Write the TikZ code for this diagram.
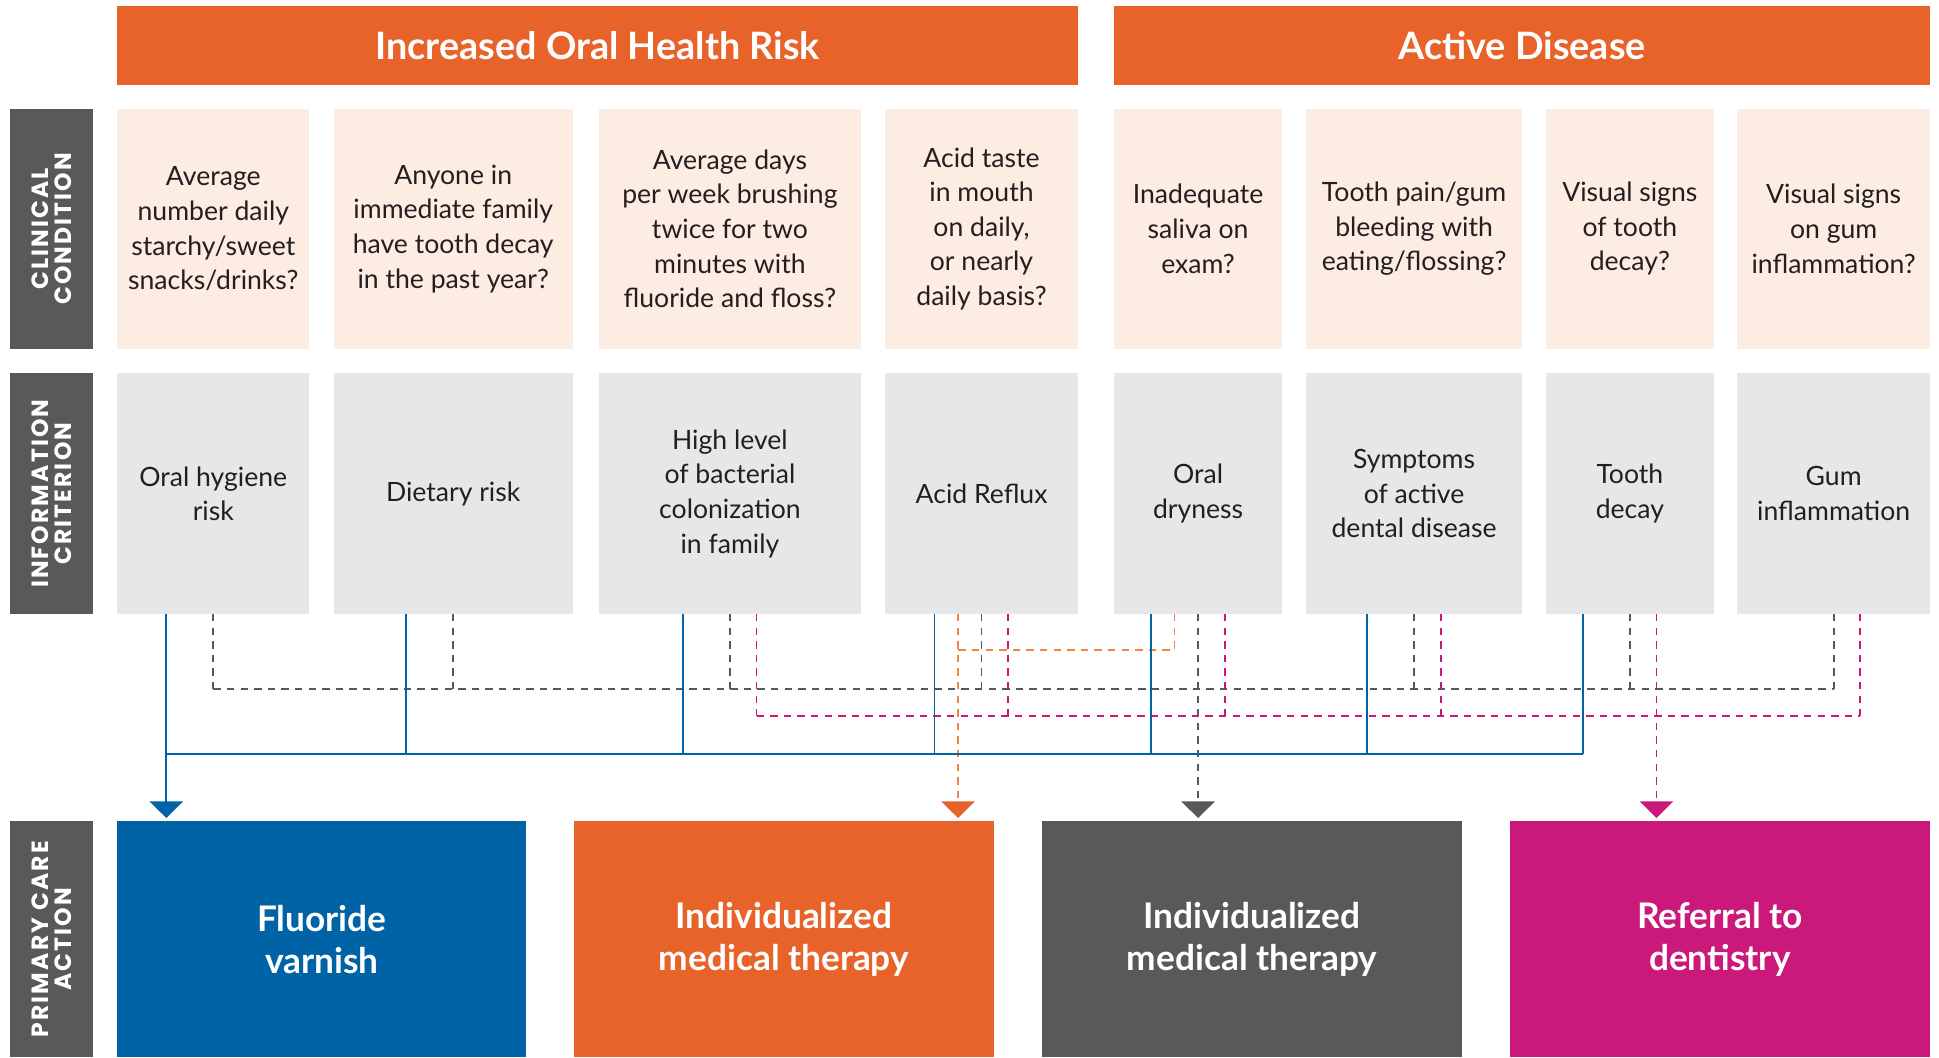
\documentclass[tikz,border=0pt]{standalone}
\usepackage{fontspec}
\setmainfont{Lato}
\newfontfamily\labfont{Poppins}[LetterSpace=9]
\usetikzlibrary{arrows.meta,calc}
\definecolor{hdr}{HTML}{E8632A}
\definecolor{orline}{HTML}{F08347}
\definecolor{peach}{HTML}{FDECE1}
\definecolor{lgray}{HTML}{E6E7E8}
\definecolor{dgray}{HTML}{58595B}
\definecolor{cblue}{HTML}{0063A6}
\definecolor{cmag}{HTML}{CB187B}
\definecolor{ink}{HTML}{231F20}
\tikzset{
  box/.style={inner sep=0pt, outer sep=0pt, align=center},
  hdrbox/.style={box, fill=hdr, text=white, minimum height=63.5pt,
    font=\bfseries\fontsize{30.5}{34}\selectfont},
  sidebar/.style={box, fill=dgray, text=white, rotate=90, minimum height=67.5pt,
    font=\labfont\bfseries\fontsize{19}{18.6}\selectfont},
  condbox/.style={box, fill=peach, text=ink, minimum height=194pt,
    font=\fontsize{21.5}{28}\selectfont},
  infobox/.style={box, fill=lgray, text=ink, minimum height=194.5pt,
    font=\fontsize{21.5}{28}\selectfont},
  actbox/.style={box, text=white, minimum height=191pt, minimum width=339.8pt,
    font=\bfseries\fontsize{28.5}{34}\selectfont},
  conn/.style={line width=1.4pt},
  dconn/.style={conn, dash pattern=on 6pt off 5pt},
  bl/.style={conn, cblue, line width=1.4pt},
  gr/.style={dconn, dgray},
  mg/.style={dconn, cmag},
  og/.style={dconn, orline},
  tip/.style={-{Triangle[width=27pt,length=13.5pt,color=#1,fill=#1]}, shorten >=2.5pt}
}
\begin{document}
\begin{tikzpicture}[x=1pt,y=-1pt]
\useasboundingbox (0,0) rectangle (1568,854.8);
% headers
\node[hdrbox, minimum width=776.5pt] (h1) at (483.25,36.75) {Increased Oral Health Risk};
\node[hdrbox, minimum width=659.6pt] (h2) at (1230.8,36.75) {Active Disease};
% side bars
\node[sidebar, minimum width=194pt] (s1) at (41.75,185) {CLINICAL\\CONDITION};
\node[sidebar, minimum width=194.5pt] (s2) at (41.75,399.25) {INFORMATION\\CRITERION};
\node[sidebar, minimum width=191pt] (s3) at (41.75,759.5) {PRIMARY CARE\\ACTION};
% clinical condition row
\node[condbox, minimum width=155pt] (c1) at (172.5,185) {Average\\number daily\\starchy/sweet\\snacks/drinks?};
\node[condbox, minimum width=193pt] (c2) at (366.5,185) {Anyone in\\immediate family\\have tooth decay\\in the past year?};
\node[condbox, minimum width=212.5pt] (c3) at (590.25,185) {Average days\\per week brushing\\twice for two\\minutes with\\fluoride and floss?};
\node[condbox, minimum width=155.5pt] (c4) at (793.75,185) {Acid taste\\in mouth\\on daily,\\or nearly\\daily basis?};
\node[condbox, minimum width=135.7pt] (c5) at (968.85,185) {Inadequate\\saliva on\\exam?};
\node[condbox, minimum width=175pt] (c6) at (1143.5,185) {Tooth pain/gum\\bleeding with\\eating/flossing?};
\node[condbox, minimum width=136pt] (c7) at (1318,185) {Visual signs\\of tooth\\decay?};
\node[condbox, minimum width=155.6pt] (c8) at (1482.8,185) {Visual signs\\on gum\\inflammation?};
% information criterion row
\node[infobox, minimum width=155pt] (i1) at (172.5,399.25) {Oral hygiene\\risk};
\node[infobox, minimum width=193pt] (i2) at (366.5,399.25) {Dietary risk};
\node[infobox, minimum width=212.5pt] (i3) at (590.25,399.25) {High level\\of bacterial\\colonization\\in family};
\node[infobox, minimum width=155.5pt] (i4) at (793.75,399.25) {Acid Reflux};
\node[infobox, minimum width=135.7pt] (i5) at (968.85,399.25) {Oral\\dryness};
\node[infobox, minimum width=175pt] (i6) at (1143.5,399.25) {Symptoms\\of active\\dental disease};
\node[infobox, minimum width=136pt] (i7) at (1318,399.25) {Tooth\\decay};
\node[infobox, minimum width=155.6pt] (i8) at (1482.8,399.25) {Gum\\inflammation};
% actions
\node[actbox, fill=cblue, minimum width=330.5pt] (a1) at (260.25,759.5) {Fluoride\\varnish};
\node[actbox, fill=hdr] (a2) at (633.9,759.5) {Individualized\\medical therapy};
\node[actbox, fill=dgray] (a3) at (1012.5,759.5) {Individualized\\medical therapy};
\node[actbox, fill=cmag] (a4) at (1390.7,759.5) {Referral to\\dentistry};
% bus levels
\coordinate (yo) at (0,525.6);
\coordinate (yg) at (0,557.4);
\coordinate (ym) at (0,578.7);
\coordinate (yb) at (0,609.7);
\foreach \i in {1,...,7} \coordinate (b\i) at ([xshift=-38pt]i\i.south);
\foreach \i in {3,...,8} \coordinate (m\i) at ([xshift=21.5pt]i\i.south);
\coordinate (o4) at ([xshift=-19pt]i4.south);
\coordinate (o5) at ([xshift=-19pt]i5.south);
% gray dashed
\foreach \i in {1,2,3,4,6,7,8} \draw[gr] (i\i.south) -- (i\i.south |- yg);
\draw[gr] (i1.south |- yg) -- (i8.south |- yg);
\draw[gr, tip=dgray] (i5.south) -- (i5.south |- a3.north);
% magenta dashed
\foreach \i in {3,4,5,6,8} \draw[mg] (m\i) -- (m\i |- ym);
\draw[mg] (m3 |- ym) -- (m8 |- ym);
\draw[mg, tip=cmag] (m7) -- (m7 |- a4.north);
% orange dashed
\draw[og] (o5) -- (o5 |- yo) -- (o4 |- yo);
\draw[og, tip=hdr] (o4) -- (o4 |- a2.north);
% blue solid
\foreach \i in {2,...,7} \draw[bl] (b\i) -- (b\i |- yb);
\draw[bl, line width=2pt] (b1 |- yb) -- (b7 |- yb);
\draw[bl, tip=cblue] (b1) -- (b1 |- a1.north);
\end{tikzpicture}
\end{document}
